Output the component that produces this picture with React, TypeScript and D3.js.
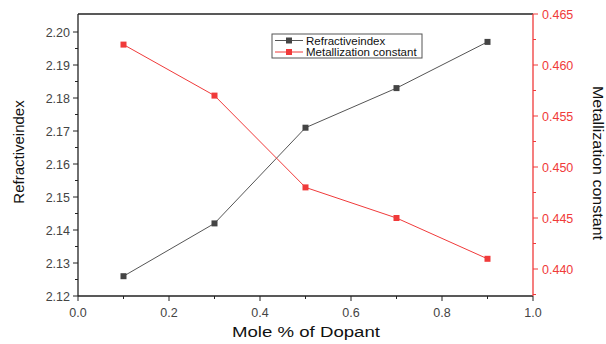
import React from "react";
import * as d3 from "d3";

const moleX = [0.1, 0.3, 0.5, 0.7, 0.9];
const refractiveIndex = [2.126, 2.142, 2.171, 2.183, 2.197];
const metallization = [0.462, 0.457, 0.448, 0.445, 0.441];
const xTicks = [0, 0.2, 0.4, 0.6, 0.8, 1.0];
const leftTicks = [2.12, 2.13, 2.14, 2.15, 2.16, 2.17, 2.18, 2.19, 2.2];
const rightTicks = [0.44, 0.445, 0.45, 0.455, 0.46, 0.465];

const W = 606, H = 344;
const L = 78, R = 533, T = 14, B = 296;
const RED = "#f03a3a";
const GRAY = "#444";
const FONT = "'Liberation Sans', Arial, sans-serif";

export default function App() {
  const x = d3.scaleLinear().domain([0, 1]).range([L, R]);
  const yL = d3.scaleLinear().domain([2.12, 2.2]).range([B, 32]);
  const yR = d3.scaleLinear().domain([0.44, 0.465]).range([269, T]);
  const lineL = d3.line<number>().x((_, i) => x(moleX[i])).y((d) => yL(d));
  const lineR = d3.line<number>().x((_, i) => x(moleX[i])).y((d) => yR(d));
  const xMinor = d3.range(0.1, 1, 0.2);
  const lMinor = d3.range(2.125, 2.2, 0.01);
  const rMinor = d3.range(0.4375, 0.465, 0.005).filter((v) => yR(v) <= B + 0.5);
  const ms = 6;
  return (
    <svg width={W} height={H} style={{ position: "absolute", left: 0, top: 0, background: "#fff" }} fontFamily={FONT}>
      {/* frame */}
      <line x1={L} x2={R} y1={T} y2={T} stroke="#222" strokeWidth={1.3} />
      <line x1={L} x2={R} y1={B} y2={B} stroke="#222" strokeWidth={1.3} />
      <line x1={L} x2={L} y1={T} y2={B} stroke="#222" strokeWidth={1.3} />
      <line x1={R} x2={R} y1={T} y2={B} stroke={RED} strokeWidth={1.3} />
      {/* x ticks */}
      {xTicks.map((t) => (
        <g key={"x" + t}>
          <line x1={x(t)} x2={x(t)} y1={B} y2={B + 5} stroke="#222" />
          <text x={x(t)} y={B + 21} textAnchor="middle" fontSize={12.5} fill={GRAY}>{t.toFixed(1)}</text>
        </g>
      ))}
      {xMinor.map((t) => (
        <line key={"xm" + t} x1={x(t)} x2={x(t)} y1={B} y2={B + 3} stroke="#222" />
      ))}
      {/* left ticks */}
      {leftTicks.map((t) => (
        <g key={"l" + t}>
          <line x1={L - 5} x2={L} y1={yL(t)} y2={yL(t)} stroke="#222" />
          <text x={L - 8} y={yL(t) + 4.5} textAnchor="end" fontSize={12.5} fill={GRAY}>{t.toFixed(2)}</text>
        </g>
      ))}
      {lMinor.map((t) => (
        <line key={"lm" + t} x1={L - 3} x2={L} y1={yL(t)} y2={yL(t)} stroke="#222" />
      ))}
      {/* right ticks */}
      {rightTicks.map((t) => (
        <g key={"r" + t}>
          <line x1={R} x2={R + 5} y1={yR(t)} y2={yR(t)} stroke={RED} />
          <text x={R + 9} y={yR(t) + 4.5} textAnchor="start" fontSize={12.5} fill={RED}>{t.toFixed(3)}</text>
        </g>
      ))}
      {rMinor.map((t) => (
        <line key={"rm" + t} x1={R} x2={R + 3} y1={yR(t)} y2={yR(t)} stroke={RED} />
      ))}
      {/* axis labels */}
      <text x={232} y={337} fontSize={15.5} fill="#111" textLength={148} lengthAdjust="spacingAndGlyphs">Mole % of Dopant</text>
      <text transform={`translate(24,152) rotate(-90)`} textAnchor="middle" fontSize={15} fill="#111">Refractiveindex</text>
      <text transform={`translate(593,86) rotate(90)`} fontSize={15} fill="#111" textLength={154} lengthAdjust="spacingAndGlyphs">Metallization constant</text>
      {/* series */}
      <path d={lineL(refractiveIndex) || ""} fill="none" stroke="#555" strokeWidth={1} />
      <path d={lineR(metallization) || ""} fill="none" stroke={RED} strokeWidth={1} />
      {refractiveIndex.map((v, i) => (
        <rect key={"pl" + i} x={x(moleX[i]) - ms / 2} y={yL(v) - ms / 2} width={ms} height={ms} fill="#444" />
      ))}
      {metallization.map((v, i) => (
        <rect key={"pr" + i} x={x(moleX[i]) - ms / 2} y={yR(v) - ms / 2} width={ms} height={ms} fill={RED} />
      ))}
      {/* legend */}
      <rect x={272} y={34} width={150} height={24} fill="#fff" stroke="#555" strokeWidth={1} />
      <line x1={275} x2={303} y1={40.5} y2={40.5} stroke="#555" />
      <rect x={286} y={37.5} width={6} height={6} fill="#444" />
      <text x={306} y={44.5} fontSize={11.5} fill="#111">Refractiveindex</text>
      <line x1={275} x2={303} y1={52} y2={52} stroke={RED} />
      <rect x={286} y={49} width={6} height={6} fill={RED} />
      <text x={306} y={56} fontSize={11.5} fill="#111">Metallization constant</text>
    </svg>
  );
}
